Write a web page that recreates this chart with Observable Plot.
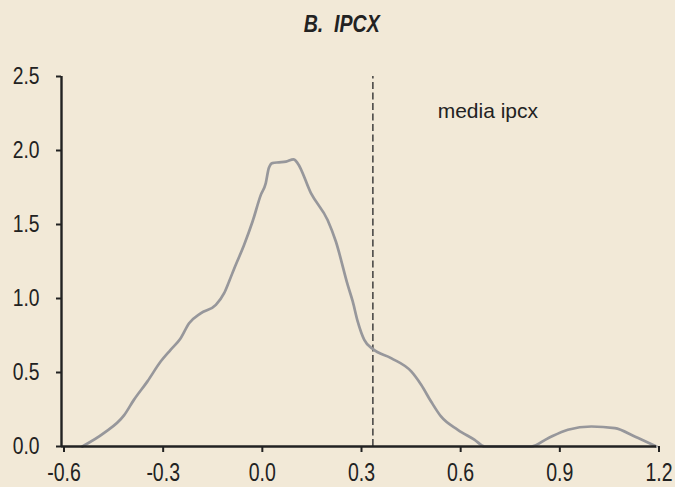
<!DOCTYPE html>
<html>
<head>
<meta charset="utf-8">
<script src="https://cdn.jsdelivr.net/npm/d3@7"></script>
<script src="https://cdn.jsdelivr.net/npm/@observablehq/plot@0.6"></script>
<style>
  html, body { margin: 0; padding: 0; background: #f2e9d7; }
  #wrap { width: 675px; height: 487px; background: #f2e9d7; font-family: "Liberation Sans", Arial, sans-serif; }
  #title { height: 55px; box-sizing: border-box; padding-top: 13px; padding-left: 9px; text-align: center; line-height: 23px; }
  #title span { display: inline-block; font-size: 23px; font-weight: bold; font-style: italic; color: #222; transform: scaleX(0.85); white-space: pre; }
  svg { display: block; }
</style>
</head>
<body>
<div id="wrap">
  <div id="title"><span>B.  IPCX</span></div>
  <div id="chart"></div>
</div>
<script>
// Density curve (x values, y values)
const xs = [-0.537,-0.472,-0.411,-0.381,-0.34,-0.3,-0.27,-0.24,-0.214,-0.179,-0.133,-0.108,-0.093,-0.078,-0.048,-0.022,0.003,0.018,0.027,0.038,0.058,0.079,0.102,0.114,0.155,0.205,0.23,0.266,0.281,0.296,0.316,0.341,0.397,0.458,0.488,0.518,0.548,0.599,0.65,0.68,0.821,0.872,0.932,1.003,1.074,1.134,1.2];
const ys = [0,0.09,0.21,0.315,0.44,0.574,0.653,0.73,0.833,0.9,0.957,1.036,1.115,1.2,1.36,1.52,1.70,1.78,1.88,1.915,1.92,1.925,1.94,1.915,1.71,1.53,1.385,1.09,0.98,0.845,0.72,0.66,0.597,0.507,0.417,0.304,0.203,0.113,0.045,0,0,0.056,0.113,0.135,0.124,0.068,0];
const meanValue = 0.342;
const meanLabel = "media ipcx";
const xTicks = [-0.6,-0.3,0,0.3,0.6,0.9,1.2];
const yTicks = [0,0.5,1,1.5,2,2.5];

const data = xs.map((x, i) => ({x, y: ys[i]}));
const font = '"Liberation Sans", Arial, sans-serif';
const fmt = d => d.toFixed(1);

const chart = Plot.plot({
  width: 675,
  height: 432,
  marginLeft: 61,
  marginRight: 19,
  marginTop: 21,
  marginBottom: 41,
  style: {background: "transparent", fontFamily: font, color: "#222"},
  x: {domain: [-0.6, 1.2], label: null},
  y: {domain: [0, 2.5], label: null},
  marks: [
    Plot.axisX({ticks: xTicks, tickFormat: fmt, tickSize: 6, tickPadding: 11, strokeWidth: 2, stroke: "#222", fill: "#222", fontSize: 25, dx: 2.5, label: null}),
    Plot.axisY({ticks: yTicks, tickFormat: fmt, tickSize: 5, tickPadding: 17, strokeWidth: 2, stroke: "#222", fill: "#222", fontSize: 23, label: null}),
    Plot.ruleX([-0.6], {y1: 0, y2: 2.5, stroke: "#222", strokeWidth: 2.4}),
    Plot.ruleX([meanValue], {y1: 0, y2: 2.5, stroke: "#333", strokeWidth: 1.4, strokeDasharray: "7,3.5"}),
    Plot.line(data, {x: "x", y: "y", stroke: "#97979b", strokeWidth: 2.7, curve: "monotone-x"}),
    Plot.ruleY([0], {x1: -0.6, x2: 1.2, stroke: "#222", strokeWidth: 2.4}),
    Plot.text([meanLabel], {x: 0.538, y: 2.267, text: d => d, textAnchor: "start", fontSize: 21, fill: "#222"})
  ]
});
document.getElementById("chart").appendChild(chart);

// condense tick labels horizontally (narrow Helvetica look) about each label's anchor,
// by wrapping each label in a scaled group (positions come from the rendered geometry)
function condense(selector, factor, anchor) {
  const texts = Array.from(chart.querySelectorAll(selector));
  texts.forEach(t => {
    const r = t.getBoundingClientRect();
    const ax = anchor === "end" ? r.right : (r.left + r.right) / 2;
    const pt = chart.createSVGPoint();
    pt.x = ax; pt.y = (r.top + r.bottom) / 2;
    const local = pt.matrixTransform(t.parentNode.getScreenCTM().inverse());
    const g = document.createElementNS("http://www.w3.org/2000/svg", "g");
    g.setAttribute("transform", `translate(${local.x},0) scale(${factor},1) translate(${-local.x},0)`);
    t.parentNode.insertBefore(g, t);
    g.appendChild(t);
  });
}
condense('g[aria-label="x-axis tick label"] text', 0.78, "middle");
condense('g[aria-label="y-axis tick label"] text', 0.84, "end");
</script>
</body>
</html>
